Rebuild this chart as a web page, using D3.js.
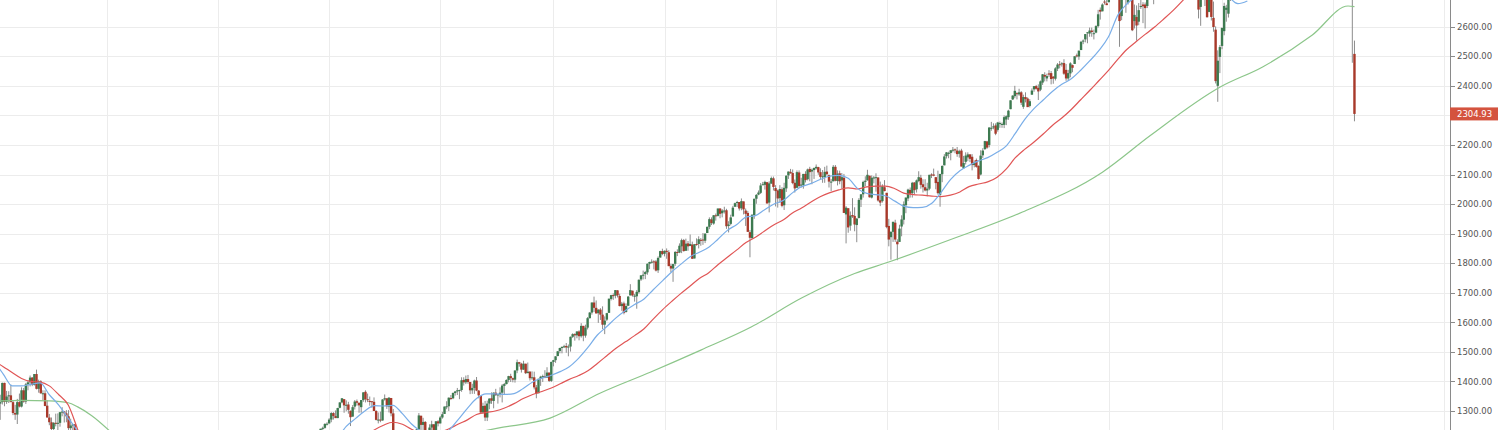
<!DOCTYPE html>
<html><head><meta charset="utf-8">
<script src="https://cdn.jsdelivr.net/npm/d3@7/dist/d3.min.js"></script>
<style>html,body{margin:0;padding:0;background:#fff}svg{display:block}</style>
</head><body>
<svg id="chart" width="1500" height="430"></svg>
<script>
// ---- weekly candles [open, high, low, close], each segment starts on the given Monday ----
const segmentStarts = ["2007-12-31", "2010-11-29", "2011-10-17", "2020-03-09"];
const ohlc2008 = [
[1468,1471,1411,1411],[1415,1421,1370,1401],[1402,1416,1325,1325],[1325,1355,1270,1330],[1330,1396,1322,1395],
[1395,1396,1316,1331],[1331,1368,1324,1349],[1350,1367,1327,1353],[1353,1389,1330,1330],[1330,1335,1286,1293],
[1293,1321,1270,1288],[1288,1341,1256,1330],[1330,1359,1312,1315],[1315,1380,1312,1370],[1370,1378,1328,1332],
[1332,1395,1324,1390],[1390,1404,1370,1397],[1397,1420,1383,1413],[1413,1415,1384,1388],[1388,1425,1386,1425],
[1425,1440,1373,1375],[1375,1406,1362,1400],[1400,1404,1358,1360],[1360,1370,1335,1360],[1360,1370,1316,1317],
[1318,1336,1278,1278],[1278,1290,1252,1262],[1262,1278,1225,1239],[1239,1262,1200,1260],[1260,1291,1248,1257],
[1257,1292,1233,1260],[1260,1297,1247,1296],[1296,1313,1282,1298],[1298,1300,1261,1292],[1292,1303,1262,1282],
[1282,1303,1235,1242],[1242,1274,1203,1251],[1251,1255,1133,1255],[1255,1256,1183,1213],[1213,1214,1007,1099]
];
const ohlc2011 = [
[1189,1225,1173,1224],[1223,1240,1217,1240],[1242,1247,1232,1243],[1243,1259,1240,1256],[1256,1262,1251,1257],
[1258,1276,1257,1271],[1271,1296,1262,1293],[1293,1296,1271,1283],[1283,1302,1276,1276],[1276,1311,1276,1310],
[1311,1330,1309,1329],[1329,1344,1326,1343],[1340,1340,1294,1319],[1320,1336,1299,1321],[1322,1331,1291,1304],
[1301,1301,1249,1279],[1281,1320,1281,1313],[1315,1337,1305,1332],[1333,1339,1318,1328],[1328,1328,1294,1319],
[1313,1337,1294,1337],[1337,1364,1331,1363],[1365,1370,1329,1340],[1340,1359,1330,1337],[1334,1349,1318,1333],
[1333,1334,1311,1331],[1331,1346,1300,1300],[1300,1303,1268,1270],[1271,1295,1258,1271],[1271,1298,1262,1268],
[1268,1340,1267,1339],[1339,1356,1335,1343],[1343,1343,1307,1316],[1315,1347,1295,1345],[1344,1344,1282,1292],
[1292,1307,1168,1199]
];
const ohlc2012to2019 = [
// 2011 Q4
[1224,1239,1191,1238],[1238,1293,1221,1285],[1284,1284,1215,1253],[1253,1277,1226,1263],[1263,1266,1209,1216],
[1215,1215,1158,1158],[1158,1255,1158,1244],[1244,1267,1231,1255],[1255,1256,1209,1219],[1219,1266,1202,1265],
[1265,1269,1248,1258],
// 2012
[1258,1283,1258,1278],[1278,1297,1274,1289],[1290,1315,1290,1315],[1315,1333,1306,1316],[1316,1346,1300,1345],
[1344,1354,1337,1342],[1343,1363,1340,1361],[1361,1368,1352,1366],[1366,1378,1354,1370],[1369,1372,1340,1371],
[1371,1414,1365,1404],[1405,1414,1386,1397],[1397,1420,1391,1408],[1408,1422,1392,1398],[1398,1398,1357,1370],
[1370,1392,1358,1378],[1378,1406,1358,1403],[1403,1415,1367,1369],[1369,1371,1343,1353],[1351,1351,1291,1295],
[1295,1328,1291,1317],[1318,1334,1266,1278],[1278,1335,1266,1325],[1325,1343,1306,1342],[1343,1363,1324,1335],
[1334,1363,1309,1362],[1362,1375,1351,1354],[1354,1357,1325,1356],[1356,1380,1346,1362],[1362,1391,1329,1386],
[1385,1395,1354,1391],[1391,1407,1390,1405],[1405,1419,1397,1418],[1418,1426,1398,1411],[1411,1413,1397,1406],
[1406,1438,1396,1437],[1437,1474,1428,1465],[1465,1466,1450,1460],[1460,1463,1430,1440],[1440,1470,1439,1460],
[1460,1460,1425,1428],[1428,1464,1428,1433],[1433,1435,1403,1411],[1411,1434,1405,1414],[1414,1433,1373,1380],
[1380,1388,1343,1359],[1360,1409,1360,1409],[1409,1419,1385,1416],[1416,1423,1398,1418],[1418,1438,1411,1413],
[1413,1448,1413,1430],[1430,1430,1398,1402],[1402,1467,1398,1466],
// 2013
[1466,1473,1451,1472],[1472,1485,1463,1485],[1486,1503,1485,1502],[1503,1514,1495,1513],[1513,1518,1495,1517],
[1518,1524,1513,1519],[1520,1530,1497,1515],[1515,1525,1485,1518],[1518,1552,1501,1551],[1551,1563,1547,1560],
[1560,1563,1538,1556],[1556,1570,1546,1569],[1569,1573,1539,1553],[1553,1597,1548,1588],[1588,1588,1536,1555],
[1555,1592,1548,1582],[1582,1618,1576,1614],[1614,1635,1613,1633],[1633,1667,1626,1667],[1667,1687,1635,1649],
[1649,1674,1630,1630],[1631,1644,1598,1643],[1643,1648,1608,1626],[1626,1654,1577,1592],[1592,1620,1560,1606],
[1609,1632,1604,1631],[1632,1680,1632,1680],[1679,1693,1674,1692],[1692,1698,1676,1691],[1690,1709,1681,1709],
[1708,1709,1684,1691],[1689,1697,1654,1655],[1655,1669,1639,1663],[1664,1670,1627,1632],[1635,1664,1633,1655],
[1656,1689,1656,1687],[1691,1729,1691,1709],[1707,1707,1687,1691],[1687,1696,1670,1690],[1688,1709,1646,1703],
[1702,1745,1697,1744],[1745,1759,1740,1759],[1759,1775,1745,1761],[1763,1774,1746,1770],[1769,1799,1761,1798],
[1798,1805,1780,1804],[1804,1813,1799,1805],[1806,1810,1779,1805],[1806,1811,1772,1775],[1776,1823,1767,1818],
[1819,1842,1819,1841],[1841,1849,1827,1831],
// 2014
[1832,1843,1823,1842],[1842,1850,1815,1838],[1837,1844,1790,1790],[1791,1798,1770,1782],[1782,1798,1737,1797],
[1798,1841,1791,1838],[1838,1847,1824,1836],[1836,1867,1834,1859],[1857,1883,1834,1878],[1878,1882,1839,1841],
[1842,1883,1842,1866],[1867,1875,1842,1857],[1858,1897,1858,1865],[1863,1873,1814,1815],[1816,1865,1816,1864],
[1865,1884,1859,1863],[1865,1891,1850,1881],[1879,1885,1859,1878],[1880,1902,1862,1877],[1876,1901,1868,1900],
[1902,1924,1902,1923],[1923,1955,1915,1949],[1948,1955,1929,1936],[1934,1963,1930,1962],[1962,1968,1944,1960],
[1960,1985,1958,1985],[1985,1986,1952,1967],[1969,1983,1955,1978],[1976,1991,1968,1978],[1979,1984,1916,1925],
[1926,1942,1904,1931],[1933,1964,1928,1955],[1958,1994,1958,1988],[1991,2005,1990,2003],[2004,2011,1990,2007],
[2007,2007,1978,1985],[1986,2019,1979,2010],[2009,2009,1965,1982],[1978,1985,1926,1967],[1970,1977,1906,1906],
[1905,1912,1820,1886],[1885,1965,1882,1964],[1963,2018,1950,2018],[2018,2034,2001,2031],[2032,2046,2030,2039],
[2038,2071,2034,2063],[2065,2075,2064,2067],[2065,2079,2049,2075],[2074,2075,2002,2002],[2005,2077,1972,2070],
[2069,2093,2069,2088],[2087,2093,2046,2058],
// 2015
[2054,2064,1992,2044],[2046,2049,1988,2019],[2020,2064,2004,2051],[2050,2057,1989,1994],[1996,2072,1980,2055],
[2053,2097,2041,2096],[2097,2110,2085,2110],[2109,2119,2103,2104],[2105,2117,2067,2071],[2072,2083,2039,2053],
[2055,2114,2054,2108],[2107,2114,2055,2061],[2064,2089,2056,2066],[2064,2102,2052,2102],[2102,2111,2073,2081],
[2084,2120,2080,2117],[2119,2126,2077,2108],[2110,2120,2067,2116],[2115,2124,2085,2122],[2121,2134,2117,2126],
[2125,2126,2099,2107],[2108,2121,2085,2092],[2092,2115,2072,2094],[2091,2126,2072,2109],[2110,2130,2097,2101],
[2098,2100,2056,2076],[2075,2085,2044,2076],[2077,2132,2077,2126],[2126,2132,2077,2079],[2078,2114,2063,2103],
[2104,2113,2067,2077],[2080,2105,2052,2091],[2089,2102,1970,1970],[1965,1993,1867,1988],[1986,1986,1903,1921],
[1927,1975,1910,1961],[1963,2020,1953,1958],[1960,1989,1908,1931],[1929,1952,1871,1951],[1953,2020,1951,2014],
[2015,2034,1990,2033],[2033,2079,2022,2075],[2075,2094,2061,2079],[2080,2116,2080,2099],[2096,2096,2022,2023],
[2022,2097,2019,2089],[2089,2095,2070,2090],[2090,2104,2042,2091],[2090,2090,2008,2012],[2013,2076,1993,2005],
[2010,2067,2005,2060],[2057,2081,2043,2044],
// 2016
[2038,2038,1918,1922],[1926,1950,1857,1880],[1888,1908,1812,1906],[1906,1940,1872,1940],[1937,1947,1872,1880],
[1873,1881,1810,1864],[1872,1930,1872,1917],[1924,1962,1891,1948],[1947,2009,1931,1999],[1996,2022,1969,2022],
[2019,2052,2010,2049],[2048,2056,2022,2035],[2037,2075,2022,2072],[2073,2074,2033,2047],[2050,2083,2039,2080],
[2078,2111,2074,2091],[2089,2099,2052,2065],[2067,2084,2039,2057],[2057,2084,2043,2046],[2046,2072,2026,2052],
[2052,2099,2047,2099],[2100,2104,2088,2099],[2100,2120,2094,2096],[2091,2091,2050,2071],[2075,2113,2032,2037],
[2031,2102,1991,2102],[2101,2131,2074,2129],[2131,2169,2131,2161],[2162,2176,2154,2175],[2173,2177,2155,2173],
[2173,2183,2148,2182],[2183,2193,2175,2184],[2185,2188,2172,2183],[2181,2193,2160,2169],[2170,2184,2157,2179],
[2181,2187,2127,2127],[2121,2163,2119,2139],[2143,2175,2134,2164],[2158,2175,2145,2168],[2168,2169,2142,2153],
[2160,2169,2114,2132],[2132,2148,2124,2141],[2149,2154,2123,2126],[2129,2131,2083,2085],[2100,2182,2097,2164],
[2165,2189,2156,2181],[2186,2214,2183,2213],[2212,2214,2187,2191],[2200,2260,2192,2259],[2258,2278,2248,2258],
[2259,2273,2253,2263],[2266,2273,2233,2238],
// 2017
[2251,2278,2245,2276],[2273,2279,2258,2274],[2269,2276,2258,2271],[2268,2300,2257,2294],[2286,2300,2267,2297],
[2294,2319,2285,2316],[2321,2351,2321,2351],[2354,2368,2352,2367],[2365,2400,2358,2383],[2375,2378,2354,2372],
[2371,2390,2366,2378],[2378,2382,2335,2343],[2329,2370,2322,2362],[2362,2378,2344,2355],[2357,2361,2328,2328],
[2332,2355,2327,2348],[2370,2391,2370,2384],[2388,2399,2380,2399],[2399,2403,2387,2390],[2393,2405,2352,2381],
[2387,2418,2382,2415],[2411,2440,2403,2439],[2437,2446,2415,2431],[2425,2441,2415,2433],[2442,2453,2430,2438],
[2443,2450,2405,2423],[2431,2433,2407,2425],[2424,2463,2418,2459],[2458,2477,2450,2472],[2473,2484,2459,2472],
[2475,2480,2465,2476],[2477,2490,2437,2441],[2454,2474,2417,2425],[2425,2454,2417,2443],[2442,2480,2429,2476],
[2470,2472,2446,2461],[2474,2500,2474,2500],[2503,2509,2496,2502],[2499,2519,2488,2519],[2521,2552,2521,2549],
[2551,2557,2541,2553],[2557,2575,2547,2575],[2578,2582,2544,2581],[2577,2597,2566,2587],[2587,2597,2566,2582],
[2576,2590,2557,2578],[2580,2605,2578,2602],[2602,2657,2597,2642],[2657,2665,2624,2651],[2652,2679,2652,2675],
[2685,2695,2675,2683],[2679,2692,2673,2673],
// 2018
[2683,2746,2682,2743],[2742,2789,2736,2786],[2798,2816,2775,2810],[2809,2872,2808,2872],[2867,2870,2759,2762],
[2741,2763,2532,2619],[2636,2754,2622,2732],[2722,2747,2700,2747],[2757,2789,2647,2691],[2681,2786,2675,2786],
[2790,2802,2741,2752],[2741,2741,2585,2588],[2619,2675,2594,2640],[2633,2672,2553,2604],[2617,2680,2605,2656],
[2670,2717,2660,2670],[2675,2683,2612,2669],[2675,2682,2594,2663],[2670,2732,2663,2727],[2738,2743,2701,2712],
[2725,2739,2707,2721],[2705,2742,2676,2734],[2742,2779,2740,2779],[2780,2801,2768,2779],[2766,2790,2743,2754],
[2742,2746,2699,2718],[2704,2764,2698,2759],[2775,2804,2770,2801],[2798,2816,2795,2801],[2810,2848,2808,2818],
[2819,2843,2795,2840],[2845,2863,2825,2833],[2827,2855,2802,2850],[2853,2876,2848,2874],[2884,2916,2884,2901],
[2896,2900,2864,2871],[2881,2908,2875,2904],[2903,2940,2886,2929],[2933,2940,2903,2913],[2926,2939,2874,2885],
[2877,2894,2710,2767],[2763,2816,2743,2767],[2773,2779,2628,2658],[2667,2741,2603,2723],[2726,2815,2722,2781],
[2773,2775,2670,2736],[2730,2730,2631,2632],[2650,2760,2649,2760],[2790,2800,2621,2633],[2630,2685,2583,2599],
[2590,2601,2408,2416],[2400,2520,2346,2485],[2498,2538,2443,2531],
// 2019
[2535,2597,2524,2596],[2585,2681,2571,2670],[2657,2674,2617,2664],[2644,2716,2631,2706],[2706,2738,2687,2707],
[2712,2780,2705,2775]
];
const ohlc2020 = [[2863,2882,2478,2711],[2508,2553,2280,2304.93]];
const candleSegments = [ohlc2008, ohlc2011, ohlc2012to2019, ohlc2020];

// ---- moving averages (month-end readings) ----
const maMonths2008 = ["2007-12","2008-01","2008-02","2008-03","2008-04","2008-05","2008-06","2008-07","2008-08","2008-09","2008-10"];
const blue2008 = [1470,1425,1385,1385,1390,1395,1355,1320,1275,1230,1120];
const red2008  = [1470,1450,1430,1410,1400,1398,1385,1355,1320,1240,1150];

const maMonthsFrom2010 = ["2010-11","2010-12",
 "2011-01","2011-02","2011-03","2011-04","2011-05","2011-06","2011-07","2011-08","2011-09","2011-10","2011-11","2011-12",
 "2012-01","2012-02","2012-03","2012-04","2012-05","2012-06","2012-07","2012-08","2012-09","2012-10","2012-11","2012-12",
 "2013-01","2013-02","2013-03","2013-04","2013-05","2013-06","2013-07","2013-08","2013-09","2013-10","2013-11","2013-12",
 "2014-01","2014-02","2014-03","2014-04","2014-05","2014-06","2014-07","2014-08","2014-09","2014-10","2014-11","2014-12",
 "2015-01","2015-02","2015-03","2015-04","2015-05","2015-06","2015-07","2015-08","2015-09","2015-10","2015-11","2015-12",
 "2016-01","2016-02","2016-03","2016-04","2016-05","2016-06","2016-07","2016-08","2016-09","2016-10","2016-11","2016-12",
 "2017-01","2017-02","2017-03","2017-04","2017-05","2017-06","2017-07","2017-08","2017-09","2017-10","2017-11","2017-12",
 "2018-01","2018-02","2018-03","2018-04","2018-05","2018-06","2018-07","2018-08","2018-09","2018-10","2018-11","2018-12",
 "2019-01","2019-02","2019-03"];
const blueFrom2010 = [1137,1170,
 1209,1248,1275,1300,1318,1317,1319,1291,1256,1231,1214,1209,
 1235,1270,1309,1342,1358,1358,1356,1359,1376,1398,1411,1421,
 1434,1450,1479,1515,1557,1585,1615,1640,1660,1679,1710,1741,
 1772,1796,1822,1837,1854,1881,1911,1931,1956,1961,1981,2000,
 2013,2037,2059,2069,2083,2094,2097,2087,2053,2036,2032,2028,
 2010,1993,1988,1989,2003,2039,2083,2113,2131,2146,2157,2175,
 2198,2238,2286,2322,2352,2381,2405,2424,2452,2485,2520,2566,
 2640,2676,2699,2706,2703,2703,2723,2760,2810,2825,2815,2758,
 2701,2678,2687];
const redFrom2010 = [1128,1139,
 1152,1171,1190,1212,1236,1252,1262,1255,1238,1225,1222,1228,
 1240,1255,1270,1288,1295,1300,1310,1325,1342,1356,1366,1378,
 1393,1407,1420,1436,1461,1486,1512,1534,1555,1578,1611,1643,
 1672,1697,1723,1748,1768,1795,1820,1845,1870,1888,1909,1930,
 1947,1969,1987,2006,2025,2038,2048,2055,2051,2058,2061,2061,
 2052,2037,2032,2030,2027,2025,2030,2041,2059,2068,2075,2091,
 2120,2156,2185,2209,2237,2266,2291,2320,2352,2385,2418,2452,
 2490,2522,2549,2574,2599,2626,2655,2688,2722,2742,2753,2744,
 2729,2733,2742];

const greenDates2008 = ["2007-12-31","2008-03-31","2008-06-30","2008-08-31","2008-10-01","2008-11-15","2009-01-10","2009-02-15"];
const green2008 = [1333,1336,1334,1328,1314,1285,1236,1200];
const greenDatesFrom2012 = ["2012-03-01","2012-07-09","2012-12-27","2013-06-10","2013-11-22","2014-05-05","2014-10-17","2015-03-31","2015-09-21","2016-01-11","2016-08-01","2017-03-24","2017-12-11","2018-05-17","2019-01-01","2019-05-20","2019-10-30","2020-02-24","2020-03-16"];
const greenFrom2012 = [1215,1242,1276,1361,1432,1506,1584,1682,1765,1804,1880,1973,2108,2232,2396,2464,2572,2670,2668];

const yTicks = [1300,1400,1500,1600,1700,1800,1900,2000,2100,2200,2300,2400,2500,2600,2700];
const gridYears = [2008,2009,2010,2011,2012,2013,2014,2015,2016,2017,2018,2019,2020,2021];
const lastPrice = 2304.93;

// ---- drawing ----
const svg = d3.select("#chart");
const plotRight = 1450, H = 430;
const parseDay = d3.timeParse("%Y-%m-%d");
const parseMonth = d3.timeParse("%Y-%m");
const x = d3.scaleTime().domain([new Date(2009,0,5), new Date(2020,0,6)]).range([107, 1333.1]);
const y = d3.scaleLinear().domain([1300, 2600]).range([411, 26.7]);

svg.append("defs").append("clipPath").attr("id","plot")
  .append("rect").attr("x",0).attr("y",0).attr("width",plotRight).attr("height",H);

const grid = svg.append("g");
grid.selectAll("line.h").data(yTicks).join("line")
  .attr("x1",0).attr("x2",plotRight)
  .attr("y1",d=>Math.round(y(d))+0.5).attr("y2",d=>Math.round(y(d))+0.5)
  .attr("stroke","#ececec").attr("stroke-width",1);
grid.selectAll("line.v").data(gridYears).join("line")
  .attr("x1",d=>Math.round(x(d3.timeMonday.ceil(new Date(d,0,1))))+0.5)
  .attr("x2",d=>Math.round(x(d3.timeMonday.ceil(new Date(d,0,1))))+0.5)
  .attr("y1",0).attr("y2",H)
  .attr("stroke","#ececec").attr("stroke-width",1);

const plot = svg.append("g").attr("clip-path","url(#plot)");

const candles = [];
candleSegments.forEach((seg,si)=>{
  const start = parseDay(segmentStarts[si]);
  seg.forEach((r,i)=>candles.push({date:d3.timeWeek.offset(start,i), o:r[0], h:r[1], l:r[2], c:r[3]}));
});

plot.append("g").selectAll("line").data(candles).join("line")
  .attr("x1",d=>x(d.date)).attr("x2",d=>x(d.date))
  .attr("y1",d=>y(Math.max(d.h,d.o,d.c))).attr("y2",d=>y(Math.min(d.l,d.o,d.c)))
  .attr("stroke","#8c8c8c").attr("stroke-width",1);
plot.append("g").selectAll("rect").data(candles).join("rect")
  .attr("x",d=>x(d.date)-1.2).attr("width",2.4)
  .attr("y",d=>y(Math.max(d.o,d.c)))
  .attr("height",d=>Math.max(1, Math.abs(y(d.o)-y(d.c))))
  .attr("fill",d=>d.c>=d.o ? "#3d7a50" : "#a8392a");

const line = d3.line().x(d=>x(d.date)).y(d=>y(d.v)).curve(d3.curveMonotoneX);
const monthEnd = s => d3.timeDay.offset(d3.timeMonth.offset(parseMonth(s),1),-1);
function drawMA(dates, vals, color, parser){
  const pts = dates.map((s,i)=>({date:parser(s), v:vals[i]}));
  plot.append("path").datum(pts).attr("d",line)
    .attr("fill","none").attr("stroke",color).attr("stroke-width",1.2);
}
drawMA(greenDates2008, green2008, "#8cc68a", parseDay);
drawMA(greenDatesFrom2012, greenFrom2012, "#8cc68a", parseDay);
drawMA(maMonths2008, red2008, "#e05555", monthEnd);
drawMA(maMonthsFrom2010, redFrom2010, "#e05555", monthEnd);
drawMA(maMonths2008, blue2008, "#7aaee8", monthEnd);
drawMA(maMonthsFrom2010, blueFrom2010, "#7aaee8", monthEnd);

// right price axis
const axisG = svg.append("g");
axisG.append("line").attr("x1",plotRight+0.5).attr("x2",plotRight+0.5).attr("y1",0).attr("y2",H)
  .attr("stroke","#8a8a8a").attr("stroke-width",1);
axisG.selectAll("line.t").data(yTicks).join("line")
  .attr("x1",plotRight).attr("x2",plotRight+5)
  .attr("y1",d=>Math.round(y(d))+0.5).attr("y2",d=>Math.round(y(d))+0.5)
  .attr("stroke","#8a8a8a");
axisG.selectAll("text").data(yTicks).join("text")
  .attr("x",plotRight+7).attr("y",d=>y(d)+3.2)
  .attr("font-family","DejaVu Sans, Verdana, sans-serif").attr("font-size","8.5px")
  .attr("fill","#555").text(d=>d3.format(".2f")(d));

const tag = svg.append("g");
tag.append("rect").attr("x",plotRight).attr("y",y(lastPrice)-6.5).attr("width",48).attr("height",13)
  .attr("fill","#d4533e");
tag.append("text").attr("x",plotRight+7).attr("y",y(lastPrice)+3.2)
  .attr("font-family","DejaVu Sans, Verdana, sans-serif").attr("font-size","8.5px")
  .attr("fill","#fff").text(d3.format(".2f")(lastPrice));
</script>
</body></html>
